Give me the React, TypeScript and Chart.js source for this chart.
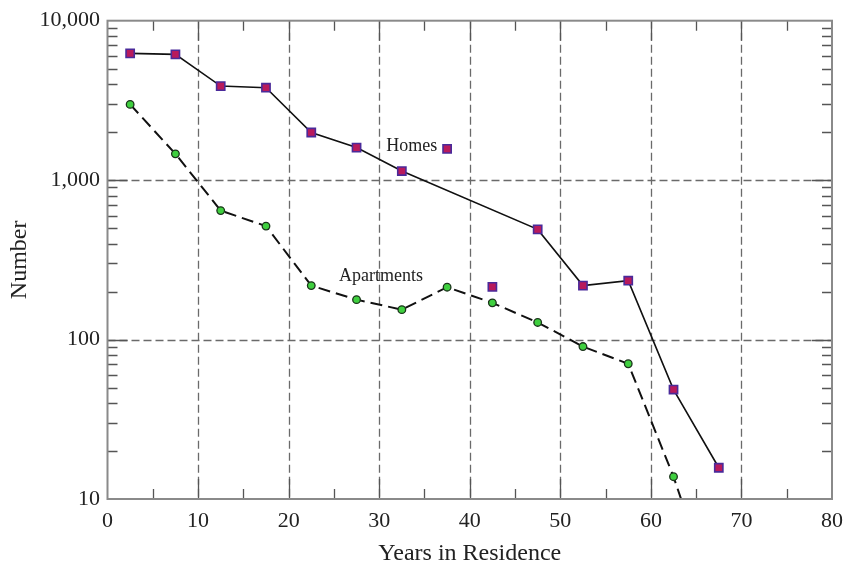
import React, { useEffect, useRef } from "react";
import { Chart, registerables } from "chart.js";

Chart.register(...registerables);

const homesYears = [2.5, 7.5, 12.5, 17.5, 22.5, 27.5, 32.5, 47.5, 52.5, 57.5, 62.5, 67.5];
const homesCounts = [6240, 6150, 3890, 3800, 1990, 1600, 1140, 491, 218, 234, 48.6, 15.7];

const apartmentYears = [2.5, 7.5, 12.5, 17.5, 22.5, 27.5, 32.5, 37.5, 42.5, 47.5, 52.5, 57.5, 62.5, 67.5];
const apartmentCounts = [2985, 1462, 644, 515, 218, 178, 154, 213, 170, 128, 90.4, 70.5, 13.8, 2];

const markerX = [37.5, 42.5];
const markerY = [1570, 214];

const labelTexts = ["Homes", "Apartments"];
const labelX = [33.6, 30.2];
const labelY = [1620, 250];

const xTickValues = [0, 10, 20, 30, 40, 50, 60, 70, 80];
const yTickValues = [10, 100, 1000, 10000];
const xGridValues = [10, 20, 30, 40, 50, 60, 70];
const yGridValues = [100, 1000];

const xTitle = "Years in Residence";
const yTitle = "Number";

const FONT = "'Liberation Serif', 'Times New Roman', serif";

const framePlugin = {
  id: "framePlugin",
  beforeDatasetsDraw(chart: any) {
    const { ctx, chartArea, scales } = chart;
    const { left, right, top, bottom } = chartArea;
    ctx.save();
    ctx.strokeStyle = "#6a6a6a";
    ctx.lineWidth = 1.3;
    ctx.setLineDash([8, 4]);
    for (const v of xGridValues) {
      const x = Math.round(scales.x.getPixelForValue(v)) + 0.5;
      ctx.beginPath();
      ctx.moveTo(x, top);
      ctx.lineTo(x, bottom);
      ctx.stroke();
    }
    for (const v of yGridValues) {
      const y = Math.round(scales.y.getPixelForValue(v)) + 0.5;
      ctx.beginPath();
      ctx.moveTo(left, y);
      ctx.lineTo(right, y);
      ctx.stroke();
    }
    ctx.restore();
  },
  afterDatasetsDraw(chart: any) {
    const { ctx, chartArea, scales } = chart;
    const { left, right, top, bottom } = chartArea;
    ctx.save();
    ctx.setLineDash([]);
    ctx.strokeStyle = "#555";
    ctx.lineWidth = 1.3;
    const major = 20;
    const minor = 10;
    for (let v = 5; v < 80; v += 5) {
      const x = Math.round(scales.x.getPixelForValue(v)) + 0.5;
      const len = v % 10 === 0 ? major : minor;
      ctx.beginPath();
      ctx.moveTo(x, bottom);
      ctx.lineTo(x, bottom - len);
      ctx.moveTo(x, top);
      ctx.lineTo(x, top + len);
      ctx.stroke();
    }
    for (let p = 10; p < 10000; p *= 10) {
      for (let m = 1; m <= 9; m++) {
        const v = p * m;
        if (v <= 10) continue;
        const y = Math.round(scales.y.getPixelForValue(v)) + 0.5;
        const len = m === 1 ? major : minor;
        ctx.beginPath();
        ctx.moveTo(left, y);
        ctx.lineTo(left + len, y);
        ctx.moveTo(right, y);
        ctx.lineTo(right - len, y);
        ctx.stroke();
      }
    }
    ctx.strokeStyle = "#8a8a8a";
    ctx.lineWidth = 2;
    ctx.strokeRect(left, top, right - left, bottom - top);
    ctx.fillStyle = "#222";
    ctx.font = `18px ${FONT}`;
    ctx.textAlign = "center";
    ctx.textBaseline = "middle";
    labelTexts.forEach((t, i) => {
      ctx.fillText(t, scales.x.getPixelForValue(labelX[i]), scales.y.getPixelForValue(labelY[i]));
    });
    ctx.restore();
  },
};

export default function App() {
  const ref = useRef<HTMLCanvasElement>(null);
  useEffect(() => {
    if (!ref.current) return;
    const squareStyle = {
      pointStyle: "rect",
      pointRadius: 5.8,
      pointBackgroundColor: "#b81a5c",
      pointBorderColor: "#4a2a9a",
      pointBorderWidth: 1.6,
    };
    const chart = new Chart(ref.current, {
      type: "line",
      data: {
        datasets: [
          {
            label: "Homes",
            data: homesYears.map((x, i) => ({ x, y: homesCounts[i] })),
            borderColor: "#111",
            borderWidth: 1.6,
            ...squareStyle,
          },
          {
            label: "Apartments",
            data: apartmentYears.map((x, i) => ({ x, y: apartmentCounts[i] })),
            borderColor: "#111",
            borderWidth: 2,
            borderDash: [12, 6],
            pointStyle: "circle",
            pointRadius: 3.8,
            pointBackgroundColor: "#3fcf3f",
            pointBorderColor: "#1a331a",
            pointBorderWidth: 1.3,
          },
          {
            label: "markers",
            data: markerX.map((x, i) => ({ x, y: markerY[i] })),
            showLine: false,
            ...squareStyle,
          },
        ],
      },
      options: {
        animation: false,
        responsive: false,
        events: [],
        layout: { padding: { top: 13.5, right: 19.5, left: 0, bottom: 0 } },
        plugins: { legend: { display: false }, tooltip: { enabled: false }, title: { display: false } },
        scales: {
          x: {
            type: "linear",
            min: 0,
            max: 80,
            grid: { display: false, drawTicks: false },
            border: { display: false },
            afterBuildTicks: (s: any) => {
              s.ticks = xTickValues.map((value) => ({ value }));
            },
            afterFit: (s: any) => {
              s.height = 71;
            },
            ticks: { color: "#222", font: { family: FONT, size: 22 }, padding: 9, maxRotation: 0, autoSkip: false },
            title: { display: true, text: xTitle, color: "#222", font: { family: FONT, size: 24 }, padding: { top: 0, bottom: 2 } },
          },
          y: {
            type: "logarithmic",
            min: 10,
            max: 10000,
            grid: { display: false, drawTicks: false },
            border: { display: false },
            afterBuildTicks: (s: any) => {
              s.ticks = yTickValues.map((value) => ({ value }));
            },
            afterFit: (s: any) => {
              s.width = 107.5;
            },
            ticks: {
              color: "#222",
              font: { family: FONT, size: 22 },
              padding: 7.5,
              autoSkip: false,
              callback: (v: any) => Number(v).toLocaleString("en-US"),
            },
            title: { display: true, text: yTitle, color: "#222", font: { family: FONT, size: 24 }, padding: { top: 5, bottom: 0 } },
          },
        },
      },
      plugins: [framePlugin],
    } as any);
    return () => chart.destroy();
  }, []);
  return (
    <div style={{ position: "absolute", left: 0, top: 0, width: 852, height: 570, background: "#fff" }}>
      <canvas ref={ref} width={852} height={570} style={{ display: "block" }} />
    </div>
  );
}
